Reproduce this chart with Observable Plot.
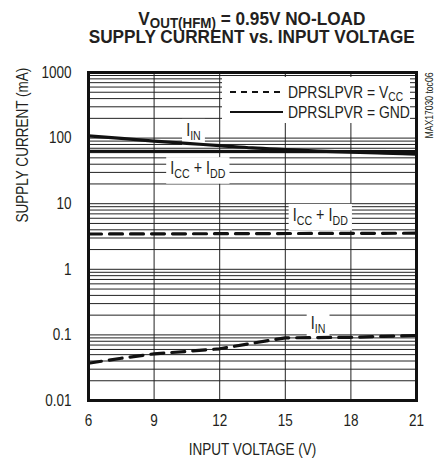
<!DOCTYPE html>
<html><head><meta charset="utf-8">
<script src="https://cdn.jsdelivr.net/npm/d3@7"></script>
<script src="https://cdn.jsdelivr.net/npm/@observablehq/plot@0.6"></script>
<style>
body{margin:0;background:#fff;}
#wrap{width:435px;height:460px;position:relative;overflow:hidden;background:#fff;}
#title{position:relative;height:55px;font-family:"Liberation Sans",Arial,sans-serif;font-weight:bold;font-size:18px;color:#231f20;}
#title div.l{position:absolute;left:52px;width:400px;text-align:center;white-space:nowrap;line-height:14px;}
#title div.l span{display:inline-block;transform:scaleX(0.955);transform-origin:50% 50%;line-height:14px;}
#title sub{font-size:14px;line-height:12px;vertical-align:baseline;position:relative;top:2.5px;}
#chart svg{display:block;}
</style></head><body>
<div id="wrap"><div id="title"><div class="l" style="top:12px"><span>V<sub>OUT(HFM)</sub> = 0.95V NO-LOAD</span></div><div class="l" style="top:30px"><span>SUPPLY CURRENT vs. INPUT VOLTAGE</span></div></div><div id="chart"></div></div>
<script>
// ---- data ----
const voltage = [6, 7.5, 9, 10.5, 12, 13.5, 15, 16.5, 18, 19.5, 21];
const iinGnd  = [108, 99, 90, 83, 77, 71, 67, 63.5, 61, 59, 57];        // solid, DPRSLPVR = GND
const iinVcc  = [0.037, 0.044, 0.0515, 0.056, 0.0614, 0.0747, 0.0903, 0.091, 0.092, 0.095, 0.098]; // dashed, DPRSLPVR = VCC
const voltageEnds = [6, 21];
const iccGnd  = [63, 62];     // solid, ICC + IDD
const iccVcc  = [3.45, 3.55]; // dashed, ICC + IDD

const xTicks   = [6, 9, 12, 15, 18, 21];
const yDecades = [0.01, 0.1, 1, 10, 100, 1000];
const yDecadeLabels = ["0.01", "0.1", "1", "10", "100", "1000"];
const minorMultipliers = [1, 2, 3, 4, 5, 6, 7, 8, 9];

const labelText = ["I_{IN}", "I_{CC} + I_{DD}", "I_{CC} + I_{DD}", "I_{IN}"];
const labelX    = [10.8, 11, 16.6, 16.5];
const labelY    = [130, 34, 6.6, 0.149];

const legendText = ["DPRSLPVR = V_{CC}", "DPRSLPVR = GND"];

// ---- derived tables ----
const yGrid = yDecades.slice(0, -1).flatMap(d => minorMultipliers.map(m => m * d)).concat([yDecades[yDecades.length - 1]]);
const series = [
  ...voltage.map((v, i) => ({x: v, y: iinGnd[i], s: "iinGnd"})),
  ...voltage.map((v, i) => ({x: v, y: iinVcc[i], s: "iinVcc"})),
  ...voltageEnds.map((v, i) => ({x: v, y: iccGnd[i], s: "iccGnd"})),
  ...voltageEnds.map((v, i) => ({x: v, y: iccVcc[i], s: "iccVcc"}))
];
const labels = labelText.map((t, i) => ({t, x: labelX[i], y: labelY[i]}));

const FONT = '"Liberation Sans",Arial,sans-serif';
const INK = "#231f20";
const NARROW = 0.82;

const plot = Plot.plot({
  width: 435,
  height: 405,
  marginTop: 17,
  marginBottom: 60,
  marginLeft: 88,
  marginRight: 19,
  style: {fontFamily: FONT, fontSize: "16.5px", color: INK, background: "#fff"},
  x: {domain: [6, 21], ticks: xTicks, tickSize: 0, tickPadding: 14, label: null},
  y: {type: "log", domain: [0.01, 1000], ticks: yDecades, tickSize: 0, tickPadding: 17, label: null,
      tickFormat: d => yDecadeLabels[yDecades.indexOf(d)] ?? ""},
  marks: [
    Plot.ruleY(yGrid, {stroke: "#222", strokeWidth: 1}),
    Plot.ruleX(xTicks, {stroke: "#222", strokeWidth: 1}),
    Plot.text(labels, {x: "x", y: "y", text: "t", fontSize: 17.5, fill: INK, className: "rich"}),
    Plot.line(series.filter(d => d.s === "iinGnd"), {x: "x", y: "y", stroke: "#111", strokeWidth: 3.2, curve: "monotone-x"}),
    Plot.line(series.filter(d => d.s === "iccGnd"), {x: "x", y: "y", stroke: "#111", strokeWidth: 3.2}),
    Plot.line(series.filter(d => d.s === "iinVcc"), {x: "x", y: "y", stroke: "#111", strokeWidth: 3.2, strokeDasharray: "13,8"}),
    Plot.line(series.filter(d => d.s === "iccVcc"), {x: "x", y: "y", stroke: "#111", strokeWidth: 3.2, strokeDasharray: "13,8"}),
    Plot.frame({stroke: "#111", strokeWidth: 3}),
    Plot.text(["MAX17030 toc06"], {frameAnchor: "top-right", text: d => d, rotate: -90, textAnchor: "end", dx: 9, fontSize: 10.5, fill: INK}),
    Plot.text(["SUPPLY CURRENT (mA)"], {frameAnchor: "left", text: d => d, rotate: -90, dx: -66, dy: -14, fontSize: 16.5, fill: INK}),
    Plot.text(["INPUT VOLTAGE (V)"], {frameAnchor: "bottom", text: d => d, dy: 54, fontSize: 16.5, fill: INK})
  ]
});
document.getElementById("chart").appendChild(plot);

const NS = "http://www.w3.org/2000/svg";
function richify(el, subSize, shift) {
  const s = el.textContent;
  if (!s.includes("_{")) return;
  while (el.firstChild) el.removeChild(el.firstChild);
  let inSub = false;
  for (const p of s.split(/(_\{[^}]*\})/)) {
    if (!p) continue;
    const m = p.match(/^_\{(.*)\}$/);
    const t = document.createElementNS(NS, "tspan");
    if (m) {
      t.textContent = m[1];
      t.setAttribute("font-size", subSize);
      if (!inSub) t.setAttribute("dy", shift);
      inSub = true;
    } else {
      t.textContent = p;
      if (inSub) t.setAttribute("dy", -shift);
      inSub = false;
    }
    el.appendChild(t);
  }
}
// compress a text horizontally around its anchor (condensed look)
function narrow(el, s) {
  const xa = el.getAttribute("x");
  const ax = xa != null && /^-?[\d.]+$/.test(xa.trim()) ? +xa : 0;
  const tr = el.getAttribute("transform") || "";
  el.setAttribute("transform", `${tr} translate(${ax},0) scale(${s},1) translate(${-ax},0)`.trim());
}
function boxBehind(el, px, py) {
  const b = el.getBBox();
  const r = document.createElementNS(NS, "rect");
  r.setAttribute("x", b.x - px);
  r.setAttribute("y", b.y - py);
  r.setAttribute("width", b.width + 2 * px);
  r.setAttribute("height", b.height + 2 * py);
  r.setAttribute("fill", "#fff");
  const tr = el.getAttribute("transform");
  if (tr) r.setAttribute("transform", tr);
  el.parentNode.insertBefore(r, el);
}
const svg = d3.select(plot);

// legend (pixel layout relative to the frame's top-right corner)
const [xL, xR] = plot.scale("x").range;
const yTop = Math.min(...plot.scale("y").range);
const lg = svg.append("g").attr("font-family", FONT).attr("text-anchor", "start");
lg.append("rect").attr("x", xR - 194).attr("y", yTop + 5).attr("width", 188).attr("height", 46).attr("fill", "#fff");
const rows = [{dash: "6,5", dy: 20}, {dash: null, dy: 40}];
rows.forEach((r, i) => {
  lg.append("line").attr("x1", xR - 186).attr("x2", xR - 133).attr("y1", yTop + r.dy).attr("y2", yTop + r.dy)
    .attr("stroke", "#111").attr("stroke-width", 1.8).attr("stroke-dasharray", r.dash);
  lg.append("text").attr("x", xR - 128).attr("y", yTop + r.dy).attr("dy", "0.36em")
    .attr("font-size", 17).attr("fill", INK).attr("class", "leg").text(legendText[i]);
});

svg.selectAll("text").each(function() {
  const isLeg = this.getAttribute("class") === "leg";
  richify(this, isLeg ? 12.5 : 13, isLeg ? 3 : 4);
  narrow(this, NARROW);
});
svg.selectAll("g.rich text").each(function() { boxBehind(this, 5, 2); });
</script>
</body></html>
